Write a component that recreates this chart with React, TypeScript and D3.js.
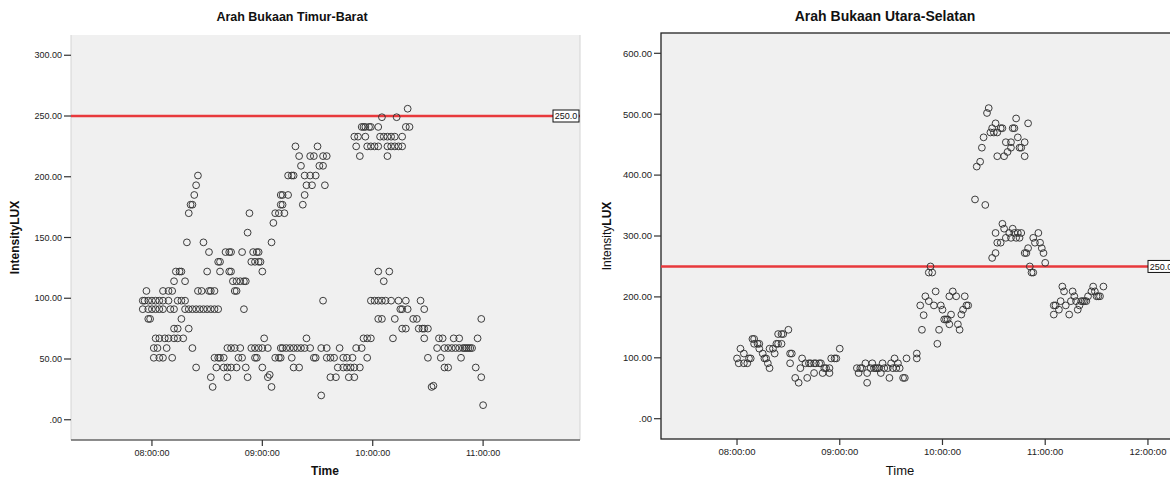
import { useEffect, useRef } from 'react'
import * as d3 from 'd3'

type Pt = [string, number]

// Arah Bukaan Timur-Barat (time, IntensityLUX)
const timurBarat: Pt[] = [
  ['07:57', 106], ['07:55', 98], ['07:56', 98], ['07:58', 98], ['08:00', 98], ['08:02', 98], ['08:04', 98], ['08:06', 98], ['08:09', 98],
  ['07:55', 91], ['07:58', 91], ['08:00', 91], ['08:02', 91], ['08:04', 91], ['08:06', 91], ['08:10', 91], ['08:12', 91],
  ['07:58', 83], ['07:59', 83],
  ['08:02', 67], ['08:04', 67], ['08:07', 67], ['08:09', 67], ['08:12', 67], ['08:14', 67], ['08:17', 67],
  ['08:01', 59], ['08:03', 59], ['08:08', 59],
  ['08:01', 51], ['08:04', 51], ['08:06', 51], ['08:11', 51],
  ['08:06', 106], ['08:09', 106], ['08:11', 106],
  ['08:12', 75], ['08:14', 75], ['08:12', 114], ['08:18', 114],
  ['08:13', 122], ['08:15', 122], ['08:16', 122],
  ['08:14', 98], ['08:16', 98], ['08:18', 98], ['08:16', 83], ['08:20', 75],
  ['08:18', 91], ['08:20', 91], ['08:22', 91], ['08:24', 91], ['08:26', 91], ['08:28', 91], ['08:30', 91], ['08:32', 91], ['08:34', 91], ['08:36', 91],
  ['08:19', 146], ['08:20', 170], ['08:21', 177], ['08:22', 177], ['08:23', 185], ['08:24', 193], ['08:25', 201],
  ['08:22', 59], ['08:24', 43], ['08:25', 106], ['08:27', 106], ['08:28', 146], ['08:30', 122], ['08:31', 138],
  ['08:31', 106], ['08:32', 106], ['08:34', 106], ['08:32', 35], ['08:33', 27],
  ['08:34', 51], ['08:36', 51], ['08:37', 51], ['08:39', 51], ['08:35', 43],
  ['08:36', 130], ['08:37', 130], ['08:37', 122], ['08:42', 122], ['08:43', 122],
  ['08:40', 138], ['08:42', 138], ['08:43', 138],
  ['08:39', 43], ['08:41', 43], ['08:43', 43], ['08:46', 43], ['08:41', 35],
  ['08:41', 59], ['08:43', 59], ['08:45', 59], ['08:48', 59],
  ['08:44', 114], ['08:46', 114], ['08:48', 114], ['08:50', 114], ['08:51', 114],
  ['08:45', 106], ['08:46', 106], ['08:47', 51], ['08:49', 51], ['08:49', 138], ['08:50', 91], ['08:51', 43], ['08:52', 35],
  ['08:52', 154], ['08:53', 170],
  ['08:54', 59], ['08:56', 59], ['08:58', 59], ['09:00', 59],
  ['08:55', 138], ['08:57', 138], ['08:58', 138],
  ['08:54', 130], ['08:56', 130], ['08:58', 130], ['08:59', 130],
  ['08:56', 51], ['08:57', 51], ['09:00', 122], ['09:00', 43], ['09:01', 67], ['09:03', 59], ['09:03', 35], ['09:04', 37], ['09:05', 27],
  ['09:05', 146], ['09:06', 162], ['09:07', 170], ['09:09', 170], ['09:12', 170], ['09:10', 177], ['09:11', 177],
  ['09:10', 185], ['09:11', 185], ['09:14', 185],
  ['09:07', 51], ['09:09', 51], ['09:10', 51],
  ['09:10', 59], ['09:11', 59], ['09:13', 59], ['09:15', 59], ['09:17', 59], ['09:19', 59], ['09:21', 59], ['09:23', 59], ['09:26', 59],
  ['09:14', 201], ['09:16', 201], ['09:17', 201], ['09:16', 51], ['09:17', 43], ['09:20', 43],
  ['09:18', 225], ['09:20', 217], ['09:21', 209], ['09:22', 177], ['09:23', 185],
  ['09:23', 201], ['09:26', 201], ['09:29', 201], ['09:24', 193], ['09:27', 193], ['09:24', 67],
  ['09:26', 217], ['09:28', 217], ['09:28', 51], ['09:29', 51], ['09:30', 225], ['09:31', 209], ['09:33', 209],
  ['09:32', 20], ['09:33', 98], ['09:33', 217], ['09:35', 217], ['09:34', 193], ['09:32', 59], ['09:35', 59],
  ['09:35', 51], ['09:37', 51], ['09:39', 51], ['09:37', 35], ['09:40', 35],
  ['09:41', 43], ['09:44', 43], ['09:46', 43], ['09:48', 43], ['09:50', 43], ['09:53', 43],
  ['09:42', 59], ['09:44', 51], ['09:46', 51], ['09:49', 51], ['09:47', 35], ['09:50', 35], ['09:51', 59], ['09:54', 59],
  ['09:50', 233], ['09:52', 233], ['09:56', 233], ['09:51', 225], ['09:53', 217],
  ['09:54', 241], ['09:55', 241], ['09:56', 241], ['09:58', 241], ['09:59', 241],
  ['09:57', 225], ['09:59', 225], ['10:01', 225], ['10:03', 225],
  ['09:55', 67], ['09:57', 67], ['09:59', 67], ['09:57', 51],
  ['10:03', 241], ['10:05', 249], ['10:04', 233], ['10:06', 233], ['10:08', 233], ['10:10', 233], ['10:12', 233],
  ['10:08', 225], ['10:10', 225], ['10:12', 225], ['10:14', 225], ['10:16', 225], ['10:08', 217],
  ['10:13', 249], ['10:16', 233], ['10:18', 241], ['10:20', 241], ['10:19', 256],
  ['09:59', 98], ['10:01', 98], ['10:03', 98], ['10:05', 98], ['10:07', 98], ['10:10', 98],
  ['10:03', 122], ['10:09', 122], ['10:06', 114], ['10:03', 83], ['10:05', 83], ['10:11', 67], ['10:12', 83],
  ['10:14', 98], ['10:15', 91], ['10:16', 91], ['10:19', 91], ['10:16', 75], ['10:18', 75], ['10:18', 98],
  ['10:22', 83], ['10:24', 83], ['10:25', 75], ['10:27', 75], ['10:28', 75], ['10:30', 75],
  ['10:26', 98], ['10:28', 91], ['10:28', 67], ['10:30', 51], ['10:32', 27], ['10:33', 28],
  ['10:35', 59], ['10:36', 67], ['10:38', 67], ['10:37', 51], ['10:39', 43], ['10:41', 43],
  ['10:39', 59], ['10:41', 59], ['10:43', 59], ['10:45', 59], ['10:47', 59], ['10:49', 59], ['10:50', 59], ['10:51', 59], ['10:52', 59], ['10:53', 59], ['10:54', 59],
  ['10:44', 67], ['10:47', 67], ['10:48', 51], ['10:56', 43], ['10:57', 67], ['10:59', 35], ['10:59', 83], ['11:00', 12],
]

// Arah Bukaan Utara-Selatan (time, IntensityLUX)
const utaraSelatan: Pt[] = [
  ['08:00', 99], ['08:01', 91], ['08:02', 115], ['08:04', 107], ['08:04', 91], ['08:06', 91], ['08:07', 99], ['08:08', 99],
  ['08:09', 131], ['08:10', 131], ['08:10', 123], ['08:12', 123], ['08:13', 123], ['08:13', 115], ['08:15', 107], ['08:16', 99], ['08:17', 99], ['08:18', 91], ['08:19', 83],
  ['08:19', 115], ['08:21', 115], ['08:22', 107], ['08:23', 123], ['08:24', 123], ['08:26', 123], ['08:24', 139], ['08:26', 139], ['08:27', 139], ['08:30', 146],
  ['08:31', 107], ['08:32', 107], ['08:31', 91],
  ['08:34', 67], ['08:36', 59], ['08:37', 83], ['08:38', 99], ['08:40', 91], ['08:41', 67], ['08:42', 91], ['08:43', 91], ['08:45', 91], ['08:46', 91],
  ['08:48', 91], ['08:49', 91], ['08:45', 75], ['08:50', 75], ['08:51', 83], ['08:52', 83], ['08:54', 75], ['08:54', 83],
  ['08:55', 99], ['08:57', 99], ['08:58', 99], ['09:00', 115],
  ['09:10', 83], ['09:11', 75], ['09:12', 83], ['09:13', 83], ['09:15', 91], ['09:16', 59], ['09:16', 75], ['09:18', 83], ['09:19', 91], ['09:20', 83],
  ['09:21', 83], ['09:22', 83], ['09:23', 83], ['09:24', 75], ['09:25', 91], ['09:26', 83], ['09:28', 83], ['09:29', 67], ['09:30', 91], ['09:31', 83],
  ['09:32', 99], ['09:33', 83], ['09:34', 91], ['09:35', 83], ['09:37', 67], ['09:38', 67], ['09:39', 99], ['09:45', 99], ['09:45', 107],
  ['09:47', 186], ['09:48', 146], ['09:49', 170], ['09:50', 201], ['09:52', 193], ['09:52', 240], ['09:53', 250], ['09:54', 240], ['09:55', 186],
  ['09:56', 209], ['09:57', 123], ['09:58', 146], ['09:59', 186], ['10:00', 179], ['10:01', 163], ['10:02', 163], ['10:03', 163], ['10:04', 155],
  ['10:04', 201], ['10:05', 171], ['10:06', 209], ['10:08', 201], ['10:09', 155], ['10:10', 146], ['10:11', 171], ['10:12', 179], ['10:13', 201],
  ['10:14', 186], ['10:15', 186],
  ['10:19', 360], ['10:25', 351], ['10:20', 414], ['10:22', 422], ['10:23', 445], ['10:24', 462], ['10:26', 502], ['10:27', 510], ['10:28', 470],
  ['10:29', 477], ['10:30', 470], ['10:31', 485], ['10:32', 470], ['10:34', 477], ['10:35', 477], ['10:32', 431], ['10:36', 431], ['10:37', 454],
  ['10:38', 438], ['10:40', 445], ['10:40', 454], ['10:41', 477], ['10:42', 477], ['10:43', 493], ['10:44', 462], ['10:45', 445], ['10:46', 445],
  ['10:48', 431], ['10:48', 454], ['10:50', 485],
  ['10:29', 264], ['10:31', 272], ['10:31', 305], ['10:32', 289], ['10:34', 289], ['10:35', 320], ['10:36', 312], ['10:37', 297], ['10:39', 305],
  ['10:40', 297], ['10:41', 312], ['10:42', 305], ['10:43', 297], ['10:44', 305], ['10:45', 297], ['10:46', 305], ['10:48', 272], ['10:49', 272],
  ['10:50', 280], ['10:51', 250], ['10:52', 240], ['10:53', 240], ['10:53', 297], ['10:54', 289], ['10:56', 305], ['10:57', 289], ['10:58', 280],
  ['10:59', 272], ['11:00', 256],
  ['11:05', 171], ['11:05', 186], ['11:06', 186], ['11:08', 179], ['11:09', 193], ['11:10', 217], ['11:11', 209], ['11:12', 186], ['11:14', 171],
  ['11:15', 193], ['11:16', 209], ['11:17', 201], ['11:18', 193], ['11:19', 179], ['11:20', 186], ['11:21', 193], ['11:22', 193], ['11:23', 193],
  ['11:24', 193], ['11:25', 201], ['11:27', 209], ['11:28', 217], ['11:29', 209], ['11:30', 201], ['11:31', 201], ['11:32', 201], ['11:34', 217],
]

const yTicksTB = [0, 50, 100, 150, 200, 250, 300]
const yTicksUS = [0, 100, 200, 300, 400, 500, 600]
const xTicksTB = ['08:00', '09:00', '10:00', '11:00']
const xTicksUS = ['08:00', '09:00', '10:00', '11:00', '12:00']
const refValue = 250

const toDate = (t: string) => {
  const [h, m, s] = t.split(':').map(Number)
  return new Date(2020, 0, 1, h, m, s || 0)
}

const fmtY = (v: number) => d3.format('.2f')(v).replace(/^0/, '')
const fmtX = d3.timeFormat('%H:%M:%S')

interface Panel {
  title: string
  titleX: number
  titleSize: number
  tickSize: number
  timeX: number
  data: Pt[]
  xTicks: string[]
  yTicks: number[]
  xDomain: [string, string]
  yDomain: [number, number]
  box: { x0: number; x1: number; y0: number; y1: number }
  dark: boolean
}

const panels: Panel[] = [
  {
    title: 'Arah Bukaan Timur-Barat',
    titleX: 292,
    titleSize: 12.5,
    tickSize: 9,
    timeX: 325,
    data: timurBarat,
    xTicks: xTicksTB,
    yTicks: yTicksTB,
    xDomain: ['07:16:00', '11:52:40'],
    yDomain: [-16.67, 316.67],
    box: { x0: 71, x1: 580, y0: 35, y1: 440 },
    dark: false,
  },
  {
    title: 'Arah Bukaan Utara-Selatan',
    titleX: 885,
    titleSize: 14,
    tickSize: 9.5,
    timeX: 900,
    data: utaraSelatan,
    xTicks: xTicksUS,
    yTicks: yTicksUS,
    xDomain: ['07:15:36', '12:15:48'],
    yDomain: [-33.33, 633.33],
    box: { x0: 661, x1: 1175, y0: 33, y1: 439 },
    dark: true,
  },
]

export default function App() {
  const svgRef = useRef<SVGSVGElement>(null)

  useEffect(() => {
    document.body.style.margin = '0'
    if (!svgRef.current) return
    const svg = d3.select(svgRef.current)
    svg.selectAll('*').remove()
    const font = '"Liberation Sans", Arial, sans-serif'

    panels.forEach((p) => {
      const { x0, x1, y0, y1 } = p.box
      const x = d3.scaleTime().domain(p.xDomain.map(toDate)).range([x0, x1])
      const y = d3.scaleLinear().domain(p.yDomain).range([y1, y0])
      const g = svg.append('g').attr('font-family', font)

      // plot area
      g.append('rect')
        .attr('x', x0).attr('y', y0)
        .attr('width', x1 - x0).attr('height', y1 - y0)
        .attr('fill', '#f0f0f0')
        .attr('stroke', p.dark ? '#222' : 'none')
        .attr('stroke-width', 1.3)
      if (!p.dark) {
        g.append('line').attr('x1', x0).attr('x2', x0).attr('y1', y0).attr('y2', y1).attr('stroke', '#d4d4d4')
        g.append('line').attr('x1', x1).attr('x2', x1).attr('y1', y0).attr('y2', y1).attr('stroke', '#d4d4d4')
        g.append('line').attr('x1', x0).attr('x2', x1).attr('y1', y1).attr('y2', y1).attr('stroke', '#666').attr('stroke-width', 1.5)
      }

      // y ticks
      p.yTicks.forEach((v) => {
        g.append('line').attr('x1', x0 - 7).attr('x2', x0).attr('y1', y(v)).attr('y2', y(v)).attr('stroke', '#333').attr('stroke-width', 1.2)
        g.append('text').attr('x', x0 - 9).attr('y', y(v)).attr('dy', '0.35em')
          .attr('text-anchor', 'end').attr('font-size', p.tickSize).attr('fill', '#222').text(fmtY(v))
      })

      // x ticks
      p.xTicks.forEach((t) => {
        const d = toDate(t)
        g.append('line').attr('x1', x(d)).attr('x2', x(d)).attr('y1', y1).attr('y2', y1 + 6).attr('stroke', '#333').attr('stroke-width', 1.2)
        g.append('text').attr('x', x(d)).attr('y', y1 + 16)
          .attr('text-anchor', 'middle').attr('font-size', p.tickSize).attr('fill', '#222').text(fmtX(d))
      })

      // reference line
      g.append('line').attr('x1', x0).attr('x2', x1).attr('y1', y(refValue)).attr('y2', y(refValue))
        .attr('stroke', '#e8393c').attr('stroke-width', 2.5)

      // points
      g.append('g').selectAll('circle').data(p.data).join('circle')
        .attr('cx', (d) => x(toDate(d[0])))
        .attr('cy', (d) => y(d[1]))
        .attr('r', 3.4)
        .attr('fill', 'none')
        .attr('stroke', '#333')
        .attr('stroke-width', 0.95)

      // reference label
      const bw = 26
      g.append('rect').attr('x', x1 - bw - 1).attr('y', y(refValue) - 6).attr('width', bw).attr('height', 12)
        .attr('fill', '#fff').attr('stroke', '#111').attr('stroke-width', 1)
      g.append('text').attr('x', x1 - bw / 2 - 1).attr('y', y(refValue)).attr('dy', '0.35em')
        .attr('text-anchor', 'middle').attr('font-size', 9).attr('fill', '#111').text(d3.format('.1f')(refValue))

      // title
      g.append('text').attr('x', p.titleX).attr('y', 21).attr('text-anchor', 'middle')
        .attr('font-size', p.titleSize).attr('font-weight', 'bold').attr('fill', '#111').text(p.title)

      // x axis title
      g.append('text').attr('x', p.timeX).attr('y', 475).attr('text-anchor', 'middle')
        .attr('font-size', p.dark ? 13 : 12).attr('font-weight', p.dark ? 'normal' : 'bold').attr('fill', '#111').text('Time')

      // y axis title
      const yl = g.append('text')
        .attr('transform', `translate(${p.dark ? x0 - 50 : 19},${(y0 + y1) / 2}) rotate(-90)`)
        .attr('text-anchor', 'middle').attr('font-size', 12).attr('fill', '#111')
      yl.append('tspan').attr('font-weight', p.dark ? 'normal' : 'bold').text('Intensity')
      yl.append('tspan').attr('font-weight', 'bold').text('LUX')
    })
  }, [])

  return <svg ref={svgRef} width={1170} height={482} style={{ display: 'block' }} />
}
